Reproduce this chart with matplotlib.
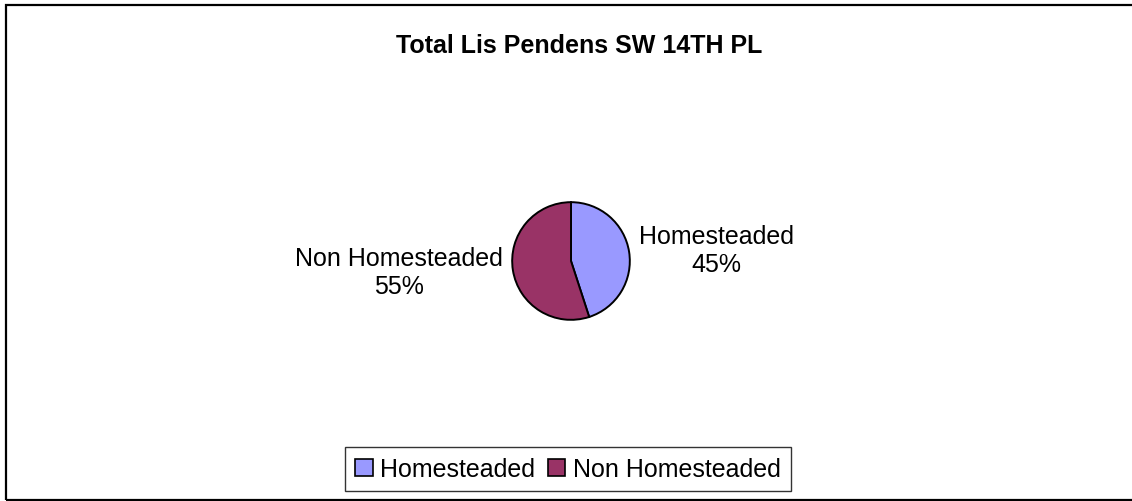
import matplotlib
matplotlib.use("Agg")
import matplotlib.pyplot as plt
from matplotlib.patches import Rectangle

# Data
categories = ["Homesteaded", "Non Homesteaded"]
shares = [45, 55]
colors = ["#9999FF", "#993366"]
title = "Total Lis Pendens SW 14TH PL"

plt.rcParams['font.family'] = ['Liberation Sans', 'DejaVu Sans']

W, H = 1132, 502
fig = plt.figure(figsize=(W / 100, H / 100), dpi=100)

# outer chart border (right side runs off the image)
fig.patches.append(Rectangle((5.5 / W, 1.5 / H), 1.2, (H - 7) / H,
                             transform=fig.transFigure, fill=False,
                             edgecolor="black", linewidth=1.6, zorder=0))

# pie axes: centre (571, 262), radius 60 px
cx, cy, r = 571, 262, 60
ax = fig.add_axes([(cx - r) / W, (H - cy - r) / H, 2 * r / W, 2 * r / H])
labels = [f"{c}\n{s}%" for c, s in zip(categories, shares)]
ax.pie(shares, labels=labels, colors=colors, startangle=90, counterclock=False,
       labeldistance=1.17, radius=1,
       wedgeprops=dict(edgecolor="black", linewidth=1.4),
       textprops=dict(fontsize=18, multialignment="center"))
ax.set_xlim(-1.02, 1.02)
ax.set_ylim(-1.02, 1.02)
ax.set_aspect("equal")
ax.axis("off")

fig.text(579 / W, 1 - 46 / H, title, ha="center", va="center",
         fontsize=18, fontweight="bold")

handles = [Rectangle((0, 0), 1, 1, facecolor=c, edgecolor="black", linewidth=1.2)
           for c in colors]
leg = fig.legend(handles, categories, loc="center",
                 bbox_to_anchor=(568 / W, 1 - 470 / H), ncol=2, fontsize=18,
                 frameon=True, fancybox=False, edgecolor="black",
                 handlelength=0.7, handleheight=0.7, handletextpad=0.3,
                 columnspacing=0.5, borderpad=0.4)
leg.get_frame().set_linewidth(1.0)

fig.savefig("out.png", dpi=100, facecolor="white")
